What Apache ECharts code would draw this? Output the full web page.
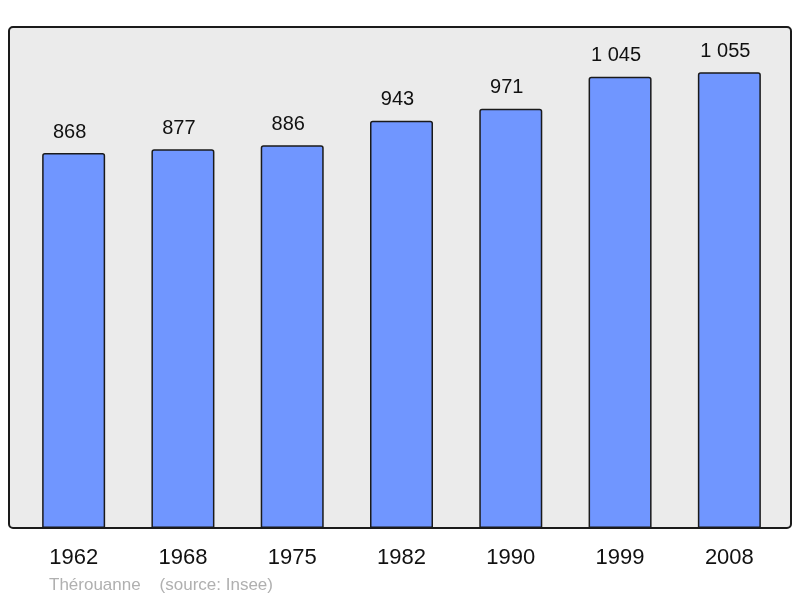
<!DOCTYPE html>
<html>
<head>
<meta charset="utf-8">
<script src="https://cdn.jsdelivr.net/npm/echarts@6/dist/echarts.min.js"></script>
<style>
html,body{margin:0;padding:0;background:#fff;}
#chart{width:800px;height:598px;}
</style>
</head>
<body>
<div id="chart"></div>
<script>
const categories = ['1962', '1968', '1975', '1982', '1990', '1999', '2008'];
const population = [868, 877, 886, 943, 971, 1045, 1055];
const footnote = 'Thérouanne    (source: Insee)';

function fmt(v) {
  return String(v).replace(/\B(?=(\d{3})+(?!\d))/g, ' ');
}

const chart = echarts.init(document.getElementById('chart'), null, {renderer: 'canvas'});
chart.setOption({
  animation: false,
  backgroundColor: '#ffffff',
  textStyle: {fontFamily: 'Liberation Sans, Arial, sans-serif'},
  graphic: [
    {
      type: 'rect',
      z: -10,
      shape: {x: 9, y: 27, width: 782, height: 501, r: 4},
      style: {fill: '#ebebeb', stroke: '#1a1a1a', lineWidth: 2}
    },
    {
      type: 'text',
      left: 49,
      top: 577,
      style: {text: footnote, fill: '#b0b0b0', font: '17px Liberation Sans, Arial, sans-serif'}
    }
  ],
  grid: {left: 19, right: 16, top: 27, bottom: 70, containLabel: false},
  xAxis: {
    type: 'category',
    data: categories,
    axisLine: {show: false},
    axisTick: {show: false},
    axisLabel: {color: '#111', fontSize: 22, margin: 19, fontFamily: 'Liberation Sans, Arial, sans-serif'}
  },
  yAxis: {
    type: 'value',
    min: 0,
    max: 1160,
    show: false,
    splitLine: {show: false}
  },
  series: [{
    type: 'bar',
    data: population,
    barWidth: 63,
    itemStyle: {color: '#7096ff', borderColor: '#1a1a1a', borderWidth: 1.5, borderRadius: [2, 2, 0, 0]},
    label: {
      show: true,
      position: 'top',
      distance: 11,
      offset: [-4, 0],
      color: '#111',
      fontSize: 20,
      fontFamily: 'Liberation Sans, Arial, sans-serif',
      formatter: p => fmt(p.value)
    }
  }]
});
</script>
</body>
</html>
